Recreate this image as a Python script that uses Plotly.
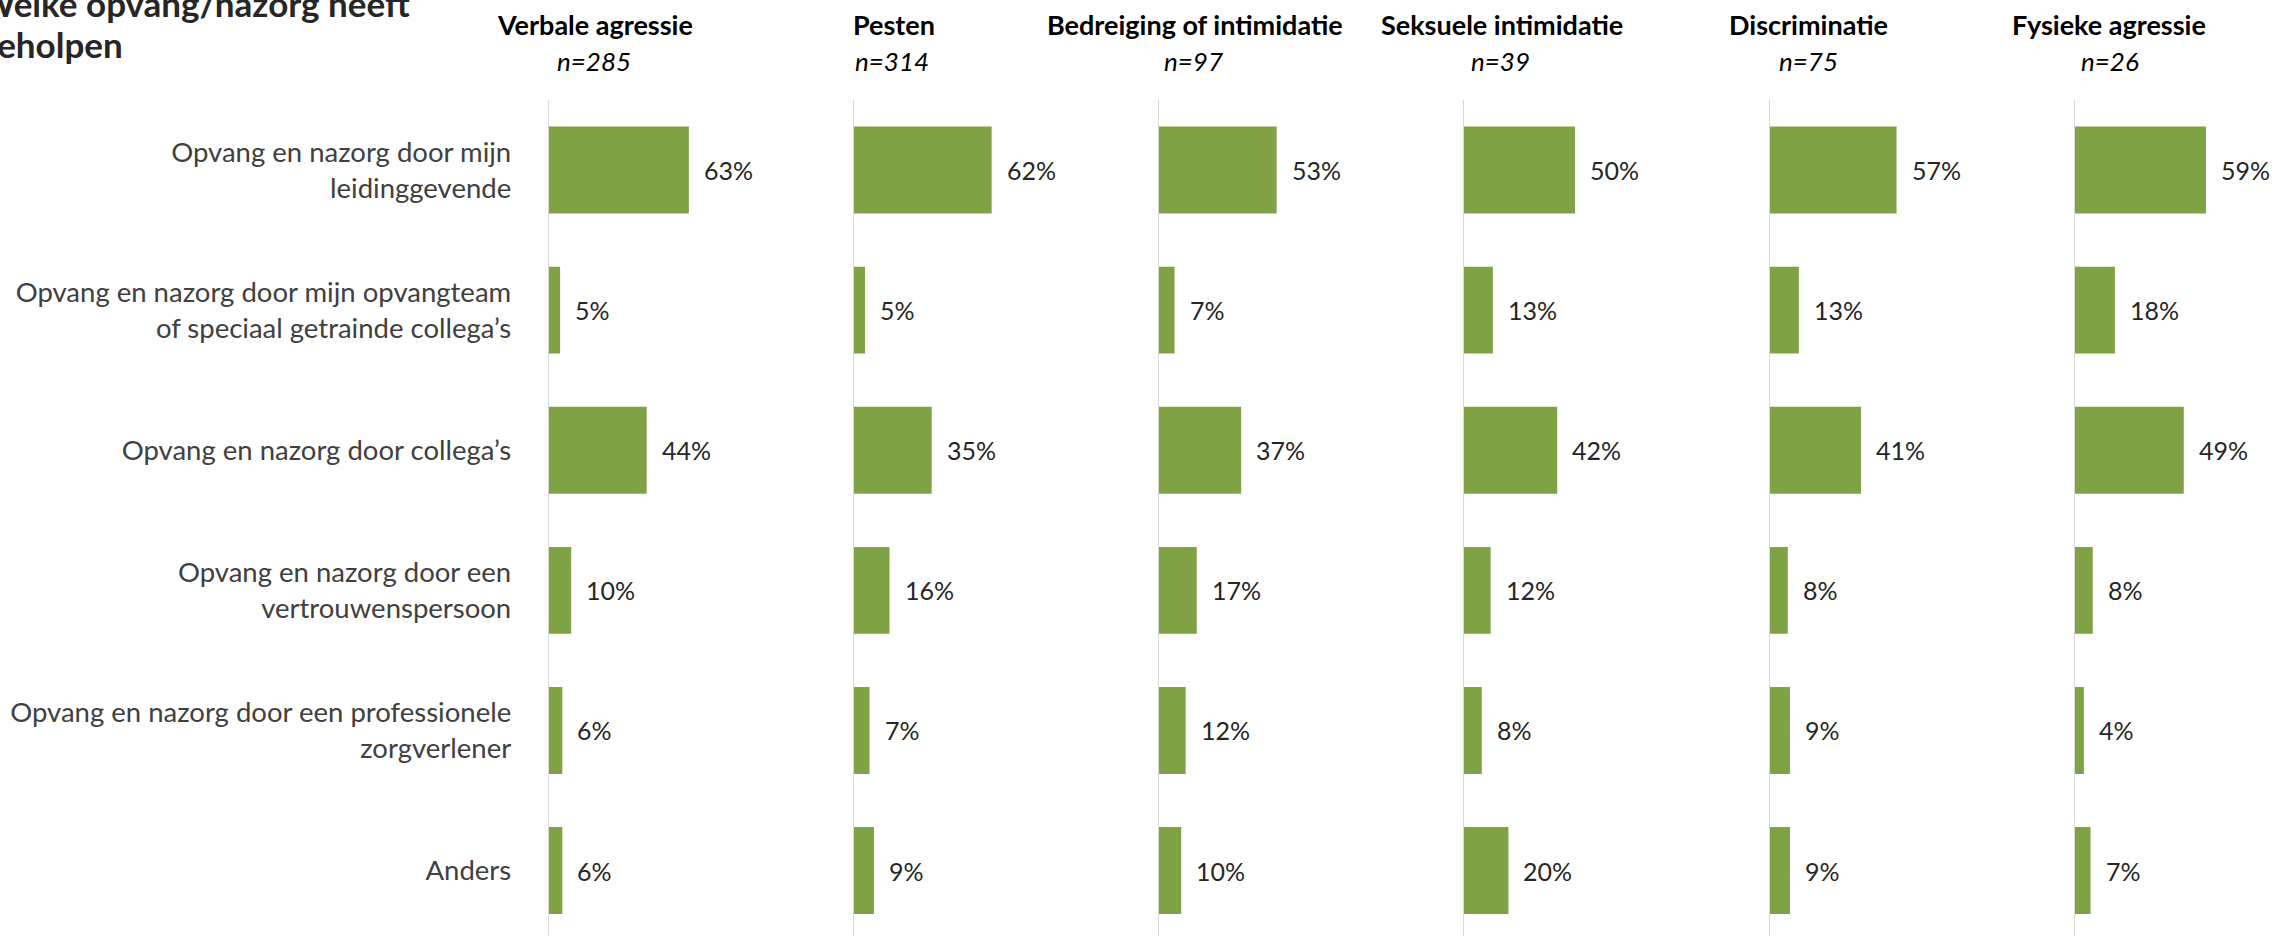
import plotly.graph_objects as go

W, H = 2290, 936

categories = [
    "Opvang en nazorg door mijn<br>leidinggevende",
    "Opvang en nazorg door mijn opvangteam<br>of speciaal getrainde collega’s",
    "Opvang en nazorg door collega’s",
    "Opvang en nazorg door een<br>vertrouwenspersoon",
    "Opvang en nazorg door een professionele<br>zorgverlener",
    "Anders",
]

groups = ["Verbale agressie", "Pesten", "Bedreiging of intimidatie",
          "Seksuele intimidatie", "Discriminatie", "Fysieke agressie"]
n_labels = ["n=285", "n=314", "n=97", "n=39", "n=75", "n=26"]

verbale = [0.63, 0.05, 0.44, 0.10, 0.06, 0.06]
pesten = [0.62, 0.05, 0.35, 0.16, 0.07, 0.09]
bedreiging = [0.53, 0.07, 0.37, 0.17, 0.12, 0.10]
seksuele = [0.50, 0.13, 0.42, 0.12, 0.08, 0.20]
discriminatie = [0.57, 0.13, 0.41, 0.08, 0.09, 0.09]
fysieke = [0.59, 0.18, 0.49, 0.08, 0.04, 0.07]
series = [verbale, pesten, bedreiging, seksuele, discriminatie, fysieke]

title_lines = ["Welke opvang/nazorg heeft", "geholpen"]

FONT = "Lato, Carlito, Calibri, sans-serif"
GREEN = "#7fa244"

# layout geometry (pixels)
axis_x0 = [549, 854, 1159, 1464, 1770, 2075]
panel_w = 290
px_per_unit = 222.0
head_x = [595, 894, 1195, 1502, 1808, 2109]
nlab_x = [594, 892, 1193, 1500, 1808, 2110]
plot_top = 100
cat_px = 140.1

fig = go.Figure()
layout = dict(
    width=W, height=H, margin=dict(l=0, r=0, t=0, b=0, pad=0, autoexpand=False),
    paper_bgcolor="white", plot_bgcolor="white", showlegend=False,
    font=dict(family=FONT, color="#404040"),
    bargap=0.38,
)
annotations = []
ydom_top = 1 - plot_top / H
span = (H - plot_top) / cat_px
for i, vals in enumerate(series):
    k = "" if i == 0 else str(i + 1)
    xa = "x" + k
    ya = "y" + k
    fig.add_trace(go.Bar(
        x=vals, y=categories, orientation="h", marker_color=GREEN,
        marker_line_width=0, xaxis=xa, yaxis=ya, hoverinfo="skip",
    ))
    wpx = min(panel_w, W - axis_x0[i])
    x0 = axis_x0[i] / W
    x1 = (axis_x0[i] + wpx) / W
    layout["xaxis" + k] = dict(
        domain=[x0, x1], range=[0, wpx / px_per_unit], visible=False,
        anchor=ya, fixedrange=True, automargin=False,
    )
    layout["yaxis" + k] = dict(
        domain=[0, ydom_top], anchor=xa, type="category",
        categoryorder="array", categoryarray=categories,
        range=[-0.5 + span, -0.5], automargin=False, fixedrange=True,
        showline=True, linecolor="#d9d9d9", linewidth=1.3,
        showgrid=False, zeroline=False, ticks="",
        showticklabels=(i == 0), ticklabelstandoff=31,
        tickfont=dict(family=FONT, size=27.5, color="#404040"),
    )
    for c, v in zip(categories, vals):
        annotations.append(dict(
            x=v, y=c, xref=xa, yref=ya, text=f"{round(v*100)}%",
            showarrow=False, xanchor="left", yanchor="middle", xshift=13,
            font=dict(family=FONT, size=25, color="#262626"),
        ))
    annotations.append(dict(
        x=head_x[i] / W, y=1 - 24 / H, xref="paper", yref="paper",
        text=f"<b>{groups[i]}</b>", showarrow=False, xanchor="center",
        yanchor="middle", font=dict(family=FONT, size=27, color="#000000"),
    ))
    annotations.append(dict(
        x=nlab_x[i] / W, y=1 - 61 / H, xref="paper", yref="paper",
        text=f"<i>{n_labels[i]}</i>", showarrow=False, xanchor="center",
        yanchor="middle", font=dict(family=FONT, size=26, color="#000000"),
    ))

title_centers = [3, 44]
for line, yc in zip(title_lines, title_centers):
    annotations.append(dict(
        x=-23 / W, y=1 - yc / H, xref="paper", yref="paper",
        text=f"<b>{line}</b>", showarrow=False, xanchor="left",
        yanchor="middle", align="left",
        font=dict(family=FONT, size=35, color="#262626"),
    ))
layout["annotations"] = annotations
fig.update_layout(**layout)
fig.write_html(
    "out.html",
    config={"displayModeBar": False, "staticPlot": True},
    post_script="document.body.style.margin='0';document.body.style.overflow='hidden';",
)
